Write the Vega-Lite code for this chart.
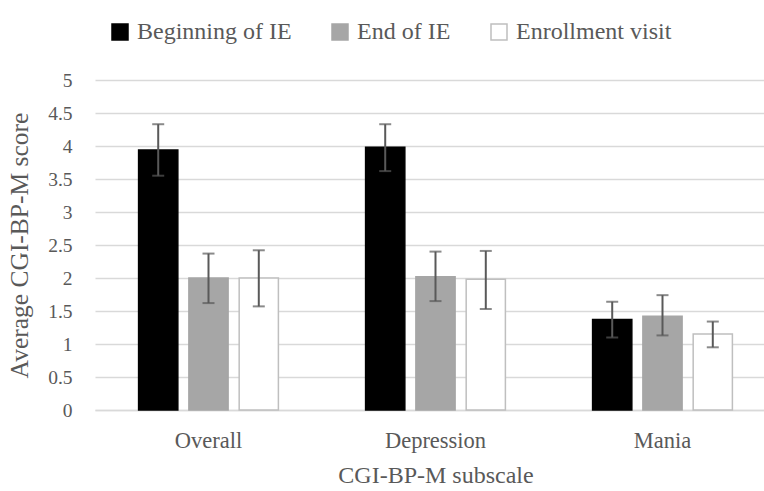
{
  "$schema": "https://vega.github.io/schema/vega-lite/v6.json",
  "width": 665,
  "height": 330,
  "autosize": "none",
  "padding": {"left": 95, "top": 80, "right": 4, "bottom": 81},
  "background": "white",
  "config": {
    "view": {"stroke": null},
    "font": "Liberation Serif",
    "axis": {"labelColor": "#595959", "titleColor": "#595959", "labelFont": "Liberation Serif", "titleFont": "Liberation Serif", "titleFontWeight": "normal"},
    "legend": {"labelColor": "#595959", "labelFont": "Liberation Serif"}
  },
  "data": {"values": [
    {"subscale": "Overall", "time": "Beginning of IE", "mean": 3.94, "lo": 3.55, "hi": 4.33},
    {"subscale": "Overall", "time": "End of IE", "mean": 2.0, "lo": 1.62, "hi": 2.37},
    {"subscale": "Overall", "time": "Enrollment visit", "mean": 2.0, "lo": 1.57, "hi": 2.42},
    {"subscale": "Depression", "time": "Beginning of IE", "mean": 3.98, "lo": 3.62, "hi": 4.33},
    {"subscale": "Depression", "time": "End of IE", "mean": 2.02, "lo": 1.65, "hi": 2.4},
    {"subscale": "Depression", "time": "Enrollment visit", "mean": 1.98, "lo": 1.53, "hi": 2.41},
    {"subscale": "Mania", "time": "Beginning of IE", "mean": 1.37, "lo": 1.1, "hi": 1.64},
    {"subscale": "Mania", "time": "End of IE", "mean": 1.42, "lo": 1.13, "hi": 1.74},
    {"subscale": "Mania", "time": "Enrollment visit", "mean": 1.15, "lo": 0.95, "hi": 1.34}
  ]},
  "encoding": {
    "x": {
      "field": "subscale", "type": "nominal", "sort": ["Overall", "Depression", "Mania"],
      "scale": {"range": [0, 681], "paddingInner": 0, "paddingOuter": 0},
      "axis": {"title": "CGI-BP-M subscale", "labelAngle": 0, "labelFontSize": 22.5, "titleFontSize": 24, "labelPadding": 19, "titlePadding": 12, "ticks": false, "domainColor": "#D9D9D9", "domainWidth": 1.5}
    },
    "xOffset": {
      "field": "time", "type": "nominal", "sort": ["Beginning of IE", "End of IE", "Enrollment visit"],
      "scale": {"paddingInner": 0.22, "paddingOuter": 0.867}
    }
  },
  "layer": [
    {
      "mark": {"type": "bar", "strokeWidth": 1.5},
      "encoding": {
        "y": {
          "field": "mean", "type": "quantitative",
          "scale": {"domain": [0, 5], "nice": false},
          "axis": {"title": "Average CGI-BP-M score", "values": [0, 0.5, 1, 1.5, 2, 2.5, 3, 3.5, 4, 4.5, 5], "format": "~g", "labelOverlap": false, "labelFontSize": 19.5, "titleFontSize": 25.5, "labelPadding": 23, "titlePadding": 15, "ticks": false, "domain": false, "gridColor": "#D9D9D9", "gridWidth": 1.5}
        },
        "fill": {
          "field": "time", "type": "nominal", "sort": ["Beginning of IE", "End of IE", "Enrollment visit"],
          "scale": {"range": ["#000000", "#A6A6A6", "#FFFFFF"]},
          "legend": {
            "title": null, "orient": "none", "direction": "horizontal", "legendX": 13, "legendY": -60,
            "symbolType": "square", "symbolSize": 256, "labelFontSize": 24, "columnPadding": 36, "labelOffset": 5, "symbolStrokeWidth": 1.5,
            "encode": {"symbols": {"update": {"stroke": {"scale": "stroke", "field": "value"}}}}
          }
        },
        "stroke": {
          "field": "time", "type": "nominal", "sort": ["Beginning of IE", "End of IE", "Enrollment visit"],
          "scale": {"range": ["#000000", "#A6A6A6", "#BFBFBF"]},
          "legend": null
        }
      }
    },
    {
      "mark": {"type": "rule", "color": "#595959", "strokeWidth": 2},
      "encoding": {
        "y": {"field": "lo", "type": "quantitative", "axis": {"title": "Average CGI-BP-M score", "values": [0, 0.5, 1, 1.5, 2, 2.5, 3, 3.5, 4, 4.5, 5], "format": "~g", "labelOverlap": false, "labelFontSize": 19.5, "titleFontSize": 25.5, "labelPadding": 23, "titlePadding": 15, "ticks": false, "domain": false, "gridColor": "#D9D9D9", "gridWidth": 1.5}},
        "y2": {"field": "hi"}
      }
    },
    {
      "mark": {"type": "tick", "color": "#595959", "size": 12, "thickness": 2},
      "encoding": {"y": {"field": "lo", "type": "quantitative", "axis": {"title": "Average CGI-BP-M score", "values": [0, 0.5, 1, 1.5, 2, 2.5, 3, 3.5, 4, 4.5, 5], "format": "~g", "labelOverlap": false, "labelFontSize": 19.5, "titleFontSize": 25.5, "labelPadding": 23, "titlePadding": 15, "ticks": false, "domain": false, "gridColor": "#D9D9D9", "gridWidth": 1.5}}}
    },
    {
      "mark": {"type": "tick", "color": "#595959", "size": 12, "thickness": 2},
      "encoding": {"y": {"field": "hi", "type": "quantitative", "axis": {"title": "Average CGI-BP-M score", "values": [0, 0.5, 1, 1.5, 2, 2.5, 3, 3.5, 4, 4.5, 5], "format": "~g", "labelOverlap": false, "labelFontSize": 19.5, "titleFontSize": 25.5, "labelPadding": 23, "titlePadding": 15, "ticks": false, "domain": false, "gridColor": "#D9D9D9", "gridWidth": 1.5}}}
    }
  ]
}
